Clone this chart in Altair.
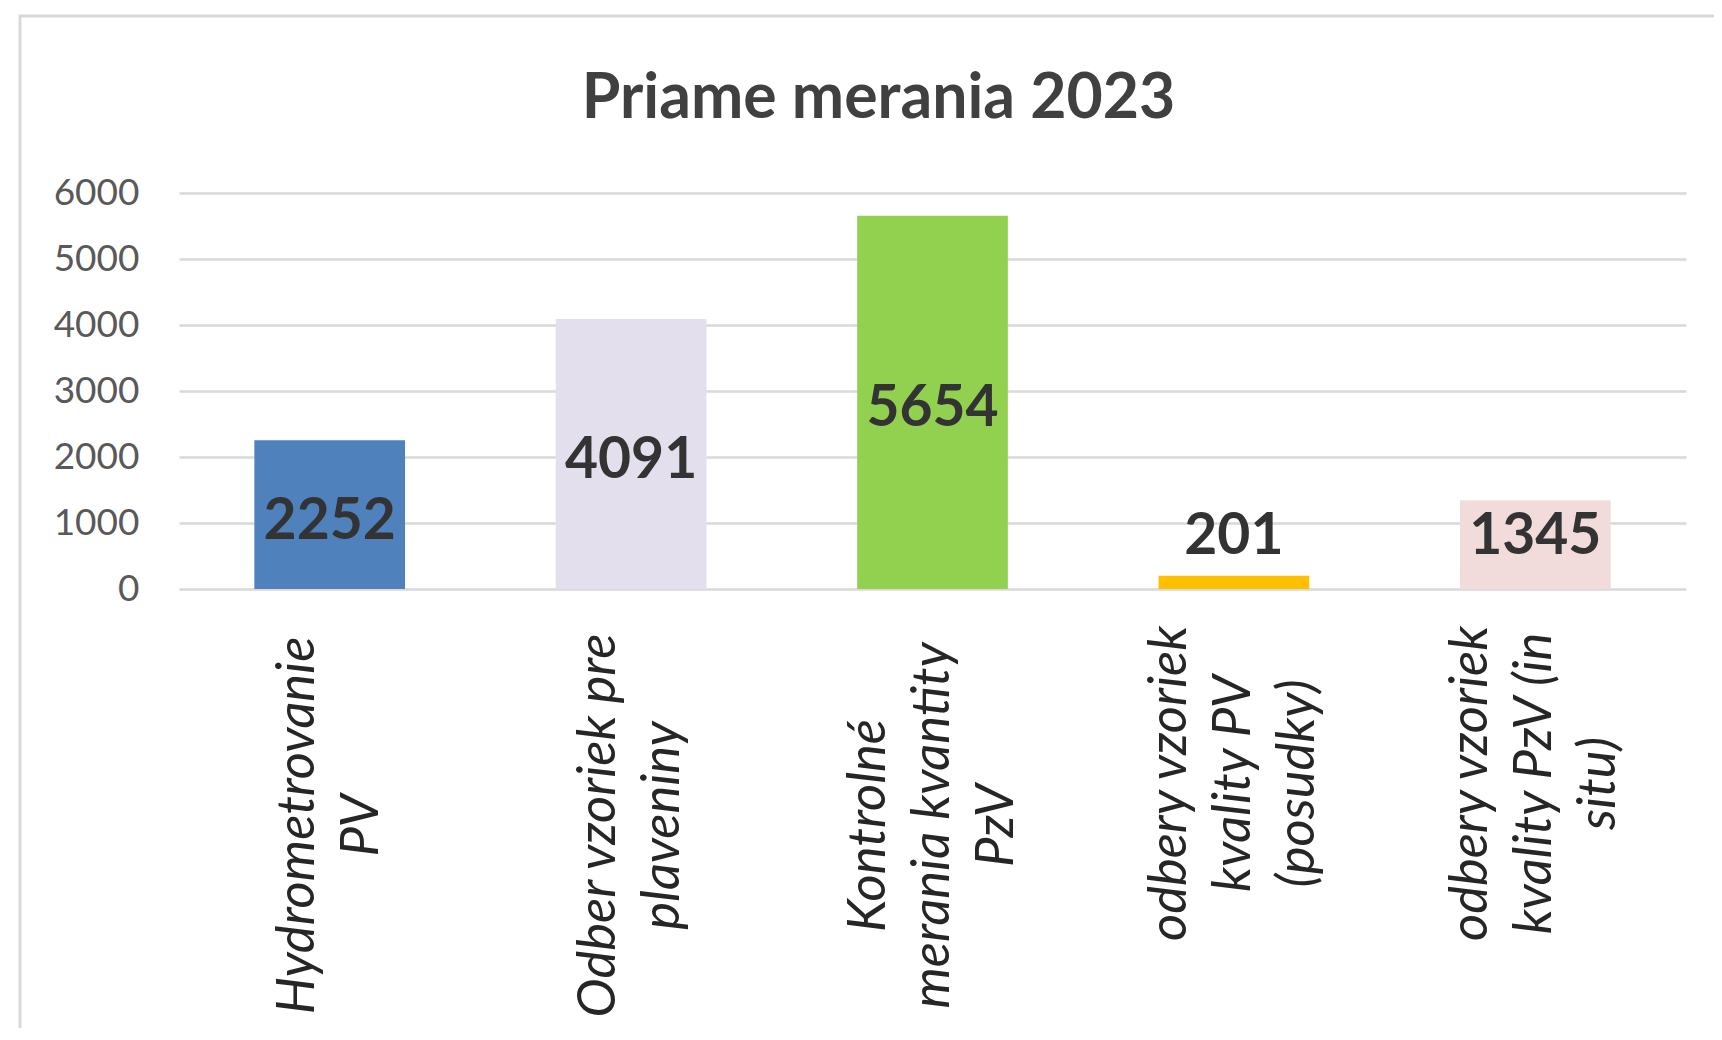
import altair as alt
import pandas as pd

title_text = "Priame merania 2023"
categories = [
    "Hydrometrovanie\nPV",
    "Odber vzoriek pre\nplaveniny",
    "Kontrolné\nmerania kvantity\nPzV",
    "odbery vzoriek\nkvality PV\n(posudky)",
    "odbery vzoriek\nkvality PzV (in\nsitu)",
]
values = [2252, 4091, 5654, 201, 1345]
colors = ["#4F81BD", "#E4DFEC", "#92D050", "#FFC000", "#F2DCDB"]
y_ticks = [0, 1000, 2000, 3000, 4000, 5000, 6000]

df = pd.DataFrame({"cat": categories, "value": values})

FONT = "Lato"
LINE_H = 64

x_enc = alt.X(
    "cat:N",
    sort=None,
    title=None,
    scale=alt.Scale(paddingInner=0.5, paddingOuter=0.25),
    axis=alt.Axis(
        labelExpr="split(datum.label, '\\n')",
        labelAngle=-90,
        labelAlign="center",
        labelBaseline="middle",
        labelFont=FONT,
        labelFontStyle="italic",
        labelFontSize=52.5,
        labelLineHeight=LINE_H,
        labelColor="#262626",
        labelPadding={
            "condition": {"test": "indexof(datum.value, 'odbery') === 0", "value": 194},
            "value": 236,
        },
        labelOffset={
            "condition": {
                "test": "length(split(datum.value, '\\n')) === 3",
                "value": -LINE_H,
            },
            "value": -LINE_H / 2,
        },
        labelLimit=0,
        ticks=False,
        tickSize=0,
        domain=False,
        grid=False,
    ),
)

y_scale = alt.Scale(domain=[0, 6000], nice=False)

bars = alt.Chart(df).mark_bar(strokeWidth=0).encode(
    x=x_enc,
    y=alt.Y(
        "value:Q",
        title=None,
        scale=y_scale,
        axis=alt.Axis(
            values=y_ticks,
            format="d",
            labelFont=FONT,
            labelFontSize=37,
            labelColor="#595959",
            labelPadding=40,
            ticks=False,
            tickSize=0,
            domain=False,
            grid=True,
            gridColor="#D9D9D9",
            gridWidth=2.5,
        ),
    ),
    color=alt.Color(
        "cat:N",
        sort=None,
        scale=alt.Scale(domain=categories, range=colors),
        legend=None,
    ),
)

labels = (
    alt.Chart(df)
    .transform_calculate(label_y="max(datum.value / 2, 894)")
    .mark_text(
        font=FONT,
        fontWeight="bold",
        fontSize=57,
        color="#333333",
        baseline="middle",
        align="center",
        dy=7,
    )
    .encode(
        x=alt.X("cat:N", sort=None),
        y=alt.Y("label_y:Q", scale=y_scale),
        text=alt.Text("value:Q"),
    )
)

frame = alt.Chart(pd.DataFrame({"f": [0]})).mark_rect(
    fill=None, stroke="#D9D9D9", strokeWidth=3
).encode(
    x=alt.value(-159),
    x2=alt.value(1600),
    y=alt.value(-177),
    y2=alt.value(900),
)

chart = (
    alt.layer(frame, bars, labels)
    .properties(
        width=1507,
        height=396,
        autosize="none",
        padding={"left": 171, "top": 185, "right": 28, "bottom": 439},
        title=alt.TitleParams(
            title_text,
            font=FONT,
            fontSize=62.5,
            fontWeight="bold",
            color="#404040",
            anchor="middle",
            frame="group",
            baseline="alphabetic",
            dx=-54,
            offset=-166,
        ),
    )
    .configure_view(stroke=None)
)

chart.save("out.html", embed_options={"renderer": "svg", "actions": False})
